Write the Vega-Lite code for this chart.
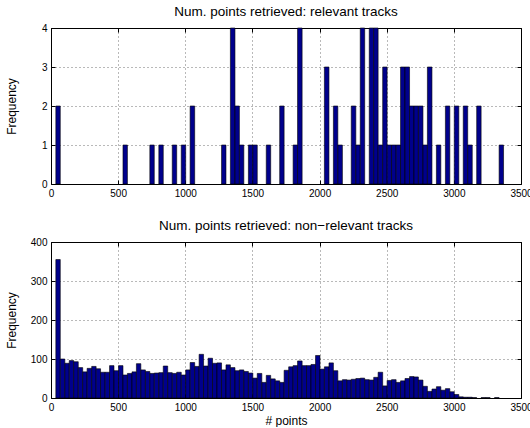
{
  "$schema": "https://vega.github.io/schema/vega-lite/v6.json",
  "padding": {"left": 4, "top": 4, "right": 0, "bottom": 0},
  "config": {
    "font": "Liberation Sans",
    "view": {"stroke": "#000", "strokeWidth": 1},
    "axis": {
      "labelFontSize": 10,
      "labelColor": "#000",
      "labelFlush": false,
      "labelOverlap": false,
      "titleFontSize": 12,
      "titleFontWeight": "normal",
      "titleColor": "#000",
      "domain": false,
      "tickColor": "#000",
      "tickSize": -4,
      "labelPadding": 8,
      "gridColor": "#000",
      "gridDash": [1, 3],
      "gridOpacity": 0.55,
      "gridWidth": 1,
      "format": "d"
    },
    "title": {"fontSize": 13.5, "fontWeight": "normal", "color": "#000", "offset": 5},
    "concat": {"spacing": 19}
  },
  "datasets": {
    "relevant": [
      {"start": 36, "end": 69, "count": 2},
      {"start": 536, "end": 569, "count": 1},
      {"start": 736, "end": 769, "count": 1},
      {"start": 803, "end": 836, "count": 1},
      {"start": 903, "end": 936, "count": 1},
      {"start": 970, "end": 1003, "count": 1},
      {"start": 1036, "end": 1070, "count": 2},
      {"start": 1270, "end": 1303, "count": 1},
      {"start": 1336, "end": 1370, "count": 4},
      {"start": 1370, "end": 1403, "count": 2},
      {"start": 1403, "end": 1436, "count": 1},
      {"start": 1470, "end": 1503, "count": 1},
      {"start": 1503, "end": 1536, "count": 1},
      {"start": 1603, "end": 1636, "count": 1},
      {"start": 1703, "end": 1736, "count": 2},
      {"start": 1803, "end": 1836, "count": 1},
      {"start": 1836, "end": 1870, "count": 4},
      {"start": 2036, "end": 2070, "count": 3},
      {"start": 2103, "end": 2136, "count": 2},
      {"start": 2136, "end": 2170, "count": 1},
      {"start": 2236, "end": 2270, "count": 2},
      {"start": 2270, "end": 2303, "count": 1},
      {"start": 2303, "end": 2336, "count": 4},
      {"start": 2370, "end": 2403, "count": 4},
      {"start": 2403, "end": 2436, "count": 4},
      {"start": 2436, "end": 2470, "count": 1},
      {"start": 2470, "end": 2503, "count": 3},
      {"start": 2503, "end": 2536, "count": 1},
      {"start": 2536, "end": 2570, "count": 1},
      {"start": 2570, "end": 2603, "count": 1},
      {"start": 2603, "end": 2636, "count": 3},
      {"start": 2636, "end": 2670, "count": 3},
      {"start": 2670, "end": 2703, "count": 2},
      {"start": 2703, "end": 2736, "count": 2},
      {"start": 2736, "end": 2770, "count": 2},
      {"start": 2770, "end": 2803, "count": 1},
      {"start": 2803, "end": 2837, "count": 3},
      {"start": 2870, "end": 2903, "count": 1},
      {"start": 2937, "end": 2970, "count": 2},
      {"start": 3003, "end": 3037, "count": 2},
      {"start": 3070, "end": 3103, "count": 2},
      {"start": 3103, "end": 3137, "count": 1},
      {"start": 3170, "end": 3203, "count": 2},
      {"start": 3337, "end": 3370, "count": 1}
    ],
    "nonrelevant": [
      {"start": 36, "end": 69, "count": 355},
      {"start": 69, "end": 103, "count": 100},
      {"start": 103, "end": 136, "count": 89},
      {"start": 136, "end": 169, "count": 96},
      {"start": 169, "end": 203, "count": 93},
      {"start": 203, "end": 236, "count": 78},
      {"start": 236, "end": 269, "count": 67},
      {"start": 269, "end": 303, "count": 76},
      {"start": 303, "end": 336, "count": 81},
      {"start": 336, "end": 369, "count": 75},
      {"start": 369, "end": 403, "count": 66},
      {"start": 403, "end": 436, "count": 66},
      {"start": 436, "end": 469, "count": 83},
      {"start": 469, "end": 503, "count": 70},
      {"start": 503, "end": 536, "count": 83},
      {"start": 536, "end": 569, "count": 59},
      {"start": 569, "end": 603, "count": 63},
      {"start": 603, "end": 636, "count": 67},
      {"start": 636, "end": 669, "count": 88},
      {"start": 669, "end": 703, "count": 72},
      {"start": 703, "end": 736, "count": 68},
      {"start": 736, "end": 769, "count": 63},
      {"start": 769, "end": 803, "count": 64},
      {"start": 803, "end": 836, "count": 65},
      {"start": 836, "end": 869, "count": 82},
      {"start": 869, "end": 903, "count": 65},
      {"start": 903, "end": 936, "count": 63},
      {"start": 936, "end": 970, "count": 66},
      {"start": 970, "end": 1003, "count": 59},
      {"start": 1003, "end": 1036, "count": 72},
      {"start": 1036, "end": 1070, "count": 91},
      {"start": 1070, "end": 1103, "count": 81},
      {"start": 1103, "end": 1136, "count": 112},
      {"start": 1136, "end": 1170, "count": 82},
      {"start": 1170, "end": 1203, "count": 102},
      {"start": 1203, "end": 1236, "count": 89},
      {"start": 1236, "end": 1270, "count": 90},
      {"start": 1270, "end": 1303, "count": 72},
      {"start": 1303, "end": 1336, "count": 85},
      {"start": 1336, "end": 1370, "count": 78},
      {"start": 1370, "end": 1403, "count": 70},
      {"start": 1403, "end": 1436, "count": 72},
      {"start": 1436, "end": 1470, "count": 68},
      {"start": 1470, "end": 1503, "count": 64},
      {"start": 1503, "end": 1536, "count": 51},
      {"start": 1536, "end": 1570, "count": 63},
      {"start": 1570, "end": 1603, "count": 40},
      {"start": 1603, "end": 1636, "count": 58},
      {"start": 1636, "end": 1670, "count": 49},
      {"start": 1670, "end": 1703, "count": 44},
      {"start": 1703, "end": 1736, "count": 40},
      {"start": 1736, "end": 1770, "count": 71},
      {"start": 1770, "end": 1803, "count": 80},
      {"start": 1803, "end": 1836, "count": 83},
      {"start": 1836, "end": 1870, "count": 95},
      {"start": 1870, "end": 1903, "count": 83},
      {"start": 1903, "end": 1936, "count": 83},
      {"start": 1936, "end": 1970, "count": 86},
      {"start": 1970, "end": 2003, "count": 109},
      {"start": 2003, "end": 2036, "count": 74},
      {"start": 2036, "end": 2070, "count": 80},
      {"start": 2070, "end": 2103, "count": 90},
      {"start": 2103, "end": 2136, "count": 70},
      {"start": 2136, "end": 2170, "count": 44},
      {"start": 2170, "end": 2203, "count": 47},
      {"start": 2203, "end": 2236, "count": 46},
      {"start": 2236, "end": 2270, "count": 48},
      {"start": 2270, "end": 2303, "count": 50},
      {"start": 2303, "end": 2336, "count": 51},
      {"start": 2336, "end": 2370, "count": 47},
      {"start": 2370, "end": 2403, "count": 46},
      {"start": 2403, "end": 2436, "count": 53},
      {"start": 2436, "end": 2470, "count": 66},
      {"start": 2470, "end": 2503, "count": 31},
      {"start": 2503, "end": 2536, "count": 45},
      {"start": 2536, "end": 2570, "count": 47},
      {"start": 2570, "end": 2603, "count": 40},
      {"start": 2603, "end": 2636, "count": 44},
      {"start": 2636, "end": 2670, "count": 50},
      {"start": 2670, "end": 2703, "count": 55},
      {"start": 2703, "end": 2736, "count": 54},
      {"start": 2736, "end": 2770, "count": 46},
      {"start": 2770, "end": 2803, "count": 30},
      {"start": 2803, "end": 2837, "count": 17},
      {"start": 2837, "end": 2870, "count": 23},
      {"start": 2870, "end": 2903, "count": 29},
      {"start": 2903, "end": 2937, "count": 20},
      {"start": 2937, "end": 2970, "count": 24},
      {"start": 2970, "end": 3003, "count": 16},
      {"start": 3003, "end": 3037, "count": 9},
      {"start": 3037, "end": 3070, "count": 3},
      {"start": 3070, "end": 3103, "count": 2},
      {"start": 3103, "end": 3137, "count": 2},
      {"start": 3137, "end": 3170, "count": 1},
      {"start": 3203, "end": 3237, "count": 1},
      {"start": 3237, "end": 3270, "count": 1},
      {"start": 3303, "end": 3337, "count": 1}
    ]
  },
  "vconcat": [
    {
      "width": 470,
      "height": 156,
      "title": "Num. points retrieved: relevant tracks",
      "data": {"name": "relevant"},
      "layer": [
        {
          "mark": {"type": "bar", "fill": "#00008c", "stroke": "#000", "strokeWidth": 0.6},
          "encoding": {
            "x": {"field": "start", "type": "quantitative",
                  "scale": {"domain": [0, 3500], "nice": false, "zero": false},
                  "axis": {"values": [0, 500, 1000, 1500, 2000, 2500, 3000, 3500], "title": null, "grid": true}},
            "x2": {"field": "end"},
            "y": {"field": "count", "type": "quantitative",
                  "scale": {"domain": [0, 4], "nice": false},
                  "axis": {"values": [0, 1, 2, 3, 4], "title": "Frequency", "grid": true, "titleX": -33}},
            "y2": {"datum": 0}
          }
        },
        {
          "mark": {"type": "bar", "opacity": 0},
          "encoding": {
            "x": {"field": "start", "type": "quantitative",
                  "axis": {"orient": "top", "values": [0, 500, 1000, 1500, 2000, 2500, 3000, 3500], "labels": false, "title": null, "grid": false}},
            "x2": {"field": "end"},
            "y": {"field": "count", "type": "quantitative",
                  "axis": {"orient": "right", "values": [0, 1, 2, 3, 4], "labels": false, "title": null, "grid": false}},
            "y2": {"datum": 0}
          }
        }
      ],
      "resolve": {"axis": {"x": "independent", "y": "independent"}}
    },
    {
      "width": 470,
      "height": 156,
      "title": "Num. points retrieved: non\u2212relevant tracks",
      "data": {"name": "nonrelevant"},
      "layer": [
        {
          "mark": {"type": "bar", "fill": "#00008c", "stroke": "#000", "strokeWidth": 0.6},
          "encoding": {
            "x": {"field": "start", "type": "quantitative",
                  "scale": {"domain": [0, 3500], "nice": false, "zero": false},
                  "axis": {"values": [0, 500, 1000, 1500, 2000, 2500, 3000, 3500], "title": "# points", "grid": true, "titlePadding": 3}},
            "x2": {"field": "end"},
            "y": {"field": "count", "type": "quantitative",
                  "scale": {"domain": [0, 400], "nice": false},
                  "axis": {"values": [0, 100, 200, 300, 400], "title": "Frequency", "grid": true, "titleX": -33}},
            "y2": {"datum": 0}
          }
        },
        {
          "mark": {"type": "bar", "opacity": 0},
          "encoding": {
            "x": {"field": "start", "type": "quantitative",
                  "axis": {"orient": "top", "values": [0, 500, 1000, 1500, 2000, 2500, 3000, 3500], "labels": false, "title": null, "grid": false}},
            "x2": {"field": "end"},
            "y": {"field": "count", "type": "quantitative",
                  "axis": {"orient": "right", "values": [0, 100, 200, 300, 400], "labels": false, "title": null, "grid": false}},
            "y2": {"datum": 0}
          }
        }
      ],
      "resolve": {"axis": {"x": "independent", "y": "independent"}}
    }
  ]
}
